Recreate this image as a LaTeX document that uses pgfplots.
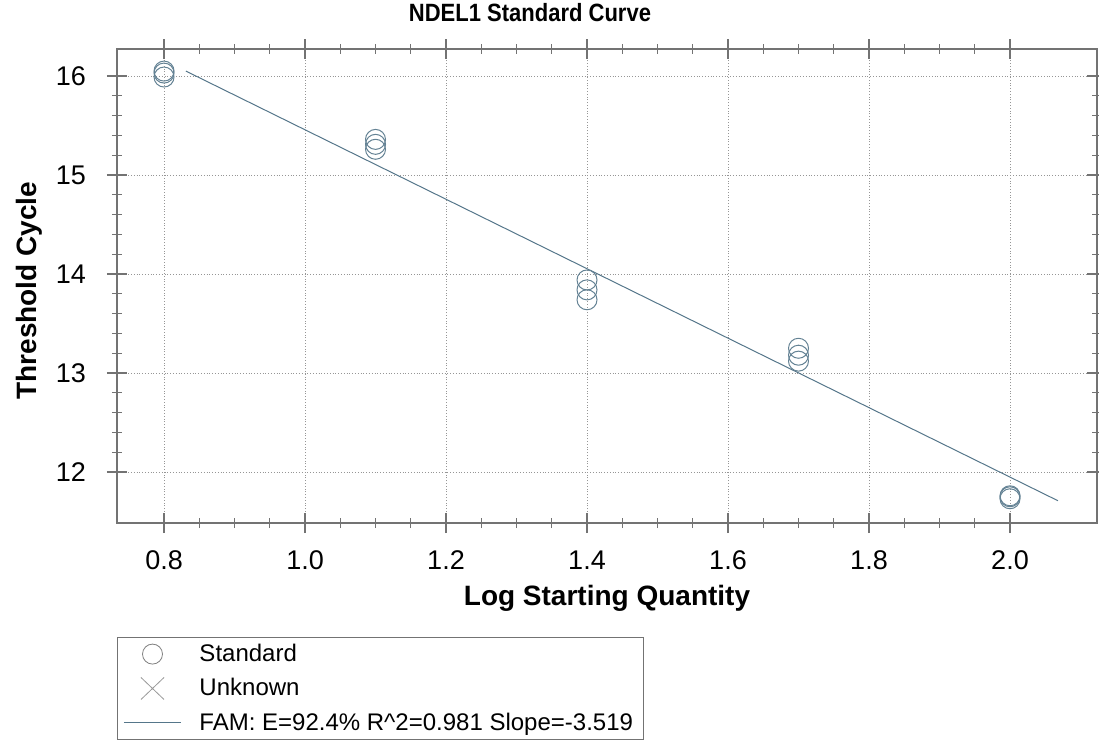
\documentclass[border=0pt]{standalone}
\usepackage{fontspec}
\setmainfont{Liberation Sans}
\usepackage{graphicx}
\usepackage{pgfplots}
\pgfplotsset{compat=1.18}
\definecolor{fam}{RGB}{85,118,138}
\definecolor{mk}{RGB}{100,130,148}
\definecolor{gridc}{RGB}{150,150,150}
\definecolor{axc}{RGB}{115,115,115}
\begin{document}
\begin{tikzpicture}
\path[use as bounding box] (-58.5pt,-108.5pt) rectangle (491pt,261.5pt);
\begin{axis}[
  at={(0,0)}, anchor=south west,
  scale only axis, width=490pt, height=237pt,
  xmin=0.7333, xmax=2.1234, ymin=11.485, ymax=16.273,
  xtick={0.8,1.0,1.2,1.4,1.6,1.8,2.0},
  ytick={12,13,14,15,16},
  minor x tick num=3, minor y tick num=4,
  tick align=center,
  major tick length=10pt, minor tick length=5pt,
  grid=major,
  major grid style={densely dotted, gridc, line width=0.5pt},
  axis line style={axc, line width=0.6pt},
  every tick/.style={axc, line width=0.6pt},
  /pgf/number format/assume math mode=true,
  xticklabel={\pgfmathprintnumber[fixed,fixed zerofill,precision=1]{\tick}},
  yticklabel={\pgfmathprintnumber[fixed,precision=0]{\tick}},
  ticklabel style={font=\fontsize{13.5}{16}\selectfont},
  xticklabel style={anchor=base, yshift=-18pt},
  yticklabel style={anchor=east, xshift=-7pt},
  xlabel={\textbf{Log Starting Quantity}},
  ylabel={\textbf{Threshold Cycle}},
  label style={font=\fontsize{14}{16}\selectfont},
  xlabel style={at={(axis description cs:0.5,0)}, anchor=base, yshift=-41pt},
  ylabel style={at={(axis description cs:-0.09,0.49)}, anchor=center},
  legend style={at={(axis description cs:0,-0.2405)}, anchor=north west, draw=axc, line width=0.5pt,
    font=\fontsize{12}{14}\selectfont, legend cell align=left,
    row sep=3pt, inner xsep=3pt, inner ysep=1.2pt},
  legend image code/.code={%
    \draw[#1] (0pt,0pt) -- (28.5pt,0pt);},
]
\addplot[only marks, mark=o, mark size=5pt, mk, mark options={line width=0.5pt},
  legend image code/.code={\draw[gray, line width=0.4pt] (14.25pt,0pt) circle (5pt);}] coordinates {
  (0.8,15.99) (0.8,16.03) (0.8,16.05)
  (1.1,15.36) (1.1,15.31) (1.1,15.26)
  (1.4,13.94) (1.4,13.84) (1.4,13.74)
  (1.7,13.25) (1.7,13.18) (1.7,13.12)
  (2.0,11.76) (2.0,11.73) (2.0,11.75)
};
\addlegendentry{\hspace{7pt}Standard}
\addlegendimage{legend image code/.code={\draw[gray!80, line width=0.4pt] (8.5pt,-5.5pt) -- (20pt,5.5pt) (8.5pt,5.5pt) -- (20pt,-5.5pt);}}
\addlegendentry{\hspace{7pt}Unknown}
\addplot[fam, line width=0.5pt] coordinates {(0.831,16.05) (2.068,11.71)};
\addlegendentry{\hspace{7pt}FAM: E=92.4\% R\^{}2=0.981 Slope=-3.519}
\end{axis}
\node[font=\fontsize{12.5}{14}\selectfont\bfseries] at (206.5pt,255pt) {\scalebox{0.88}[1]{NDEL1 Standard Curve}};
\end{tikzpicture}
\end{document}
